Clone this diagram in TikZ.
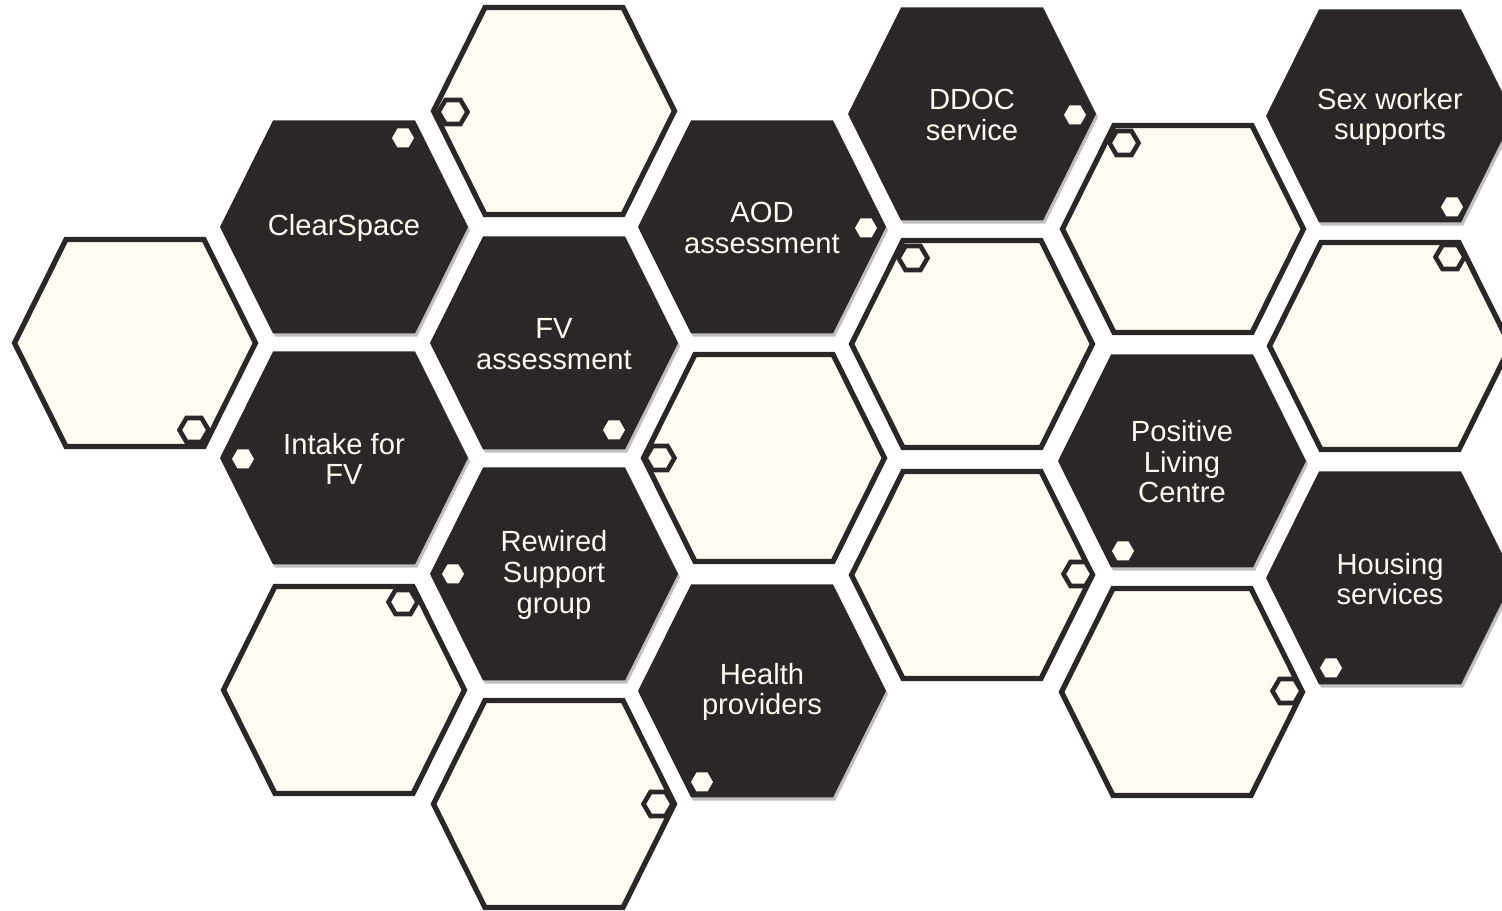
\documentclass[tikz,border=0pt]{standalone}
\usepackage{fontspec}
\setmainfont{Liberation Sans}
\usetikzlibrary{shadows}
\definecolor{hexdark}{RGB}{43,39,40}
\definecolor{hexcream}{RGB}{255,251,242}
\tikzset{
  darkhex/.style={
    fill=hexdark,
    drop shadow={shadow xshift=1.2pt, shadow yshift=-1.8pt,
      opacity=0.25, fill=black}},
  lighthex/.style={
    fill=hexcream,
    draw=hexdark, line width=3pt},
  darkdot/.style={fill=hexcream},
  lightdot/.style={fill=hexcream, draw=hexdark, line width=2.6pt},
  hexlabel/.style={
    text=hexcream,
    align=center,
    inner sep=0pt,
    font=\fontsize{16.6}{17.4}\selectfont},
}

\begin{document}
\begin{tikzpicture}[x=0.02cm, y=-0.02cm]
  \clip (0,0) rectangle (1502,911);
  % outlined cells
  \foreach \x/\y in {135/343, 554/111, 344/690, 554/804, 764/458,
                     972/344, 972/575, 1183/229, 1182/692, 1390/346}
    \path[lighthex] (\x,\y) +(-120.5,0) -- +(-69,-103.5) -- +(69,-103.5)
      -- +(120.5,0) -- +(69,103.5) -- +(-69,103.5) -- cycle;
  % filled cells with their labels
  \foreach \x/\y/\nm/\txt in {
      344/227/clearspace/{ClearSpace},
      344/458/intake/{Intake for\\FV},
      554/343/fvassess/{FV\\assessment},
      554/574/rewired/{Rewired\\Support\\group},
      762/227/aod/{AOD\\assessment},
      762/691/health/{Health\\providers},
      972/114/ddoc/{DDOC\\service},
      1182/461/plc/{Positive\\Living\\Centre},
      1390/116/sexwork/{Sex worker\\supports},
      1390/578/housing/{Housing\\services}}{
    \path[darkhex] (\x,\y) +(-124,0) -- +(-71,-106.5) -- +(71,-106.5)
      -- +(124,0) -- +(71,106.5) -- +(-71,106.5) -- cycle;
    \node[hexlabel] (\nm) at (\x,\y+1) {\txt};
  }
  % small hexagons
  \foreach \x/\y in {403/138, 243/459, 614/430, 453/574, 866/228,
                     702/782, 1075/115, 1123/551, 1452/207, 1331/668}
    \path[darkdot] (\x,\y) +(-11,0) -- +(-5.5,-9.5) -- +(5.5,-9.5)
      -- +(11,0) -- +(5.5,9.5) -- +(-5.5,9.5) -- cycle;
  \foreach \x/\y in {194/430, 453/112, 403/602, 658/804, 660/458,
                     913/258, 1078/574, 1124/143, 1287/691, 1450/257}
    \path[lightdot] (\x,\y) +(-14.5,0) -- +(-7.5,-12) -- +(7.5,-12)
      -- +(14.5,0) -- +(7.5,12) -- +(-7.5,12) -- cycle;
\end{tikzpicture}
\end{document}
